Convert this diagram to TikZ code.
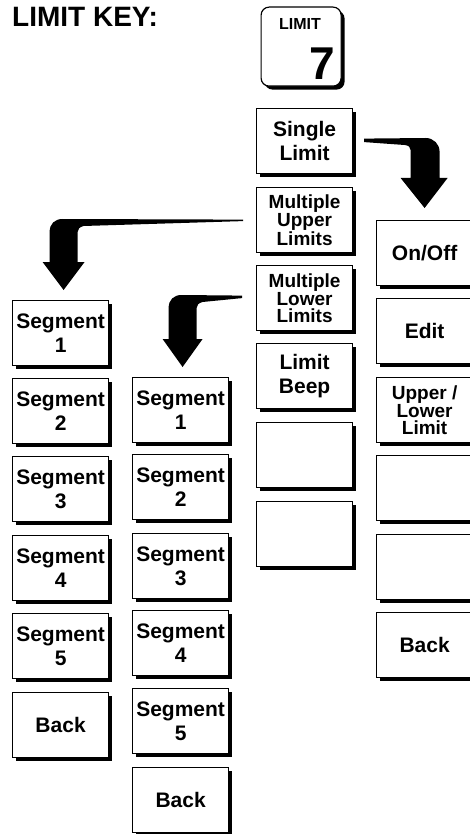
\documentclass[tikz,border=0pt]{standalone}
\usepackage{fontspec}
\setmainfont{Liberation Sans}
\usetikzlibrary{shadows,calc}
\tikzset{
  keybox/.style={draw, line width=1.2pt, fill=white, minimum width=96pt, minimum height=65pt,
    inner sep=0pt, align=center, anchor=north west,
    font=\fontsize{21}{24}\selectfont\bfseries,
    drop shadow={shadow xshift=3.2pt, shadow yshift=-3.2pt, opacity=1, fill=black}},
  keybox3/.style={keybox, font=\fontsize{19}{17}\selectfont\bfseries},
  bigarrow/.style={fill=black},
}
\begin{document}
\begin{tikzpicture}[x=1pt,y=-1pt]
\useasboundingbox (0,0) rectangle (470,834);
% title
\node[anchor=base west, inner sep=0pt, font=\fontsize{28}{28}\selectfont\bfseries] (title) at (12,27) {LIMIT KEY:};
% hard key
\node[draw, line width=1.2pt, fill=white, rounded corners=8pt, minimum width=80pt, minimum height=79pt,
  anchor=north west, inner sep=0pt,
  drop shadow={shadow xshift=3.5pt, shadow yshift=-3.5pt, opacity=1, fill=black}] (hk) at (260.5,6.5) {};
\node[anchor=base, inner sep=0pt, font=\fontsize{16}{16}\selectfont\bfseries] (hklab) at (300,30) {LIMIT};
\node[anchor=base east, inner sep=0pt, font=\fontsize{46}{46}\selectfont\bfseries] (hknum) at (335,80) {7};
% centre column
\node[keybox] (sl) at (256,108) {Single\\Limit};
\node[keybox3] (mu) at (256,187) {Multiple\\Upper\\Limits};
\node[keybox3] (ml) at (256,265) {Multiple\\Lower\\Limits};
\node[keybox] (lb) at (256,343) {Limit\\Beep};
\node[keybox] (c5) at (256,422) {};
\node[keybox] (c6) at (256,501) {};
% right column
\node[keybox] (oo) at (376,220) {On/Off};
\node[keybox] (ed) at (376,298) {Edit};
\node[keybox3] (ul) at (376,377) {Upper /\\Lower\\Limit};
\node[keybox] (r4) at (376,455) {};
\node[keybox] (r5) at (376,534) {};
\node[keybox] (rb) at (376,612) {Back};
% left column
\node[keybox] (s1) at (12,300) {Segment\\1};
\node[keybox] (s2) at (12,378) {Segment\\2};
\node[keybox] (s3) at (12,456) {Segment\\3};
\node[keybox] (s4) at (12,535) {Segment\\4};
\node[keybox] (s5) at (12,613) {Segment\\5};
\node[keybox] (lback) at (12,692) {Back};
% middle column
\node[keybox] (m1) at (132,377) {Segment\\1};
\node[keybox] (m2) at (132,454) {Segment\\2};
\node[keybox] (m3) at (132,533) {Segment\\3};
\node[keybox] (m4) at (132,610) {Segment\\4};
\node[keybox] (m5) at (132,688) {Segment\\5};
\node[keybox] (mback) at (132,767) {Back};
% arrow end points
\coordinate (a1s) at ($(sl.east)+(11,-2.5)$);
\coordinate (a1b) at ($(sl.east)+(11,1)$);
\coordinate (a1t) at ($(oo.north)+(0,-12)$);
\coordinate (a2s) at ($(mu.west)+(-13,-0.5)$);
\coordinate (a2b) at ($(mu.west)+(-13,1)$);
\coordinate (a2t) at ($(s1.north)+(3,-10)$);
\coordinate (a3s) at ($(ml.west)+(-14,-2.5)$);
\coordinate (a3b) at ($(ml.west)+(-14,0)$);
\coordinate (a3t) at ($(m1.north)+(2,-10)$);
% Single Limit -> On/Off
\begin{scope}[shift={(a1t)}]
\fill[bigarrow] (a1s) -- (1,-70) .. controls (9,-70) and (15,-64) .. (15,-56) -- (15,-30) -- (23,-30) -- (0,0)
  -- (-24,-30) -- (-14,-30) -- (-14,-58) .. controls (-14,-61) and (-16,-62.5) .. (-20,-63) -- (a1b) -- cycle;
\end{scope}
% Multiple Upper Limits -> left segments
\begin{scope}[shift={(a2t)}]
\fill[bigarrow] (a2s) -- (-1,-71) .. controls (-9,-71) and (-14,-66) .. (-14,-58) -- (-14,-28) -- (-21,-28) -- (0,0)
  -- (21,-28) -- (14,-28) -- (14,-58) .. controls (14,-61) and (16,-63) .. (20,-64) -- (a2b) -- cycle;
\end{scope}
% Multiple Lower Limits -> middle segments
\begin{scope}[shift={(a3t)}]
\fill[bigarrow] (a3s) -- (-1,-72) .. controls (-9,-72) and (-14,-67) .. (-14,-59) -- (-14,-28) -- (-20,-28) -- (0,0)
  -- (20,-28) -- (14,-28) -- (14,-59) .. controls (14,-62) and (16,-64) .. (20,-65) -- (a3b) -- cycle;
\end{scope}
\end{tikzpicture}
\end{document}
